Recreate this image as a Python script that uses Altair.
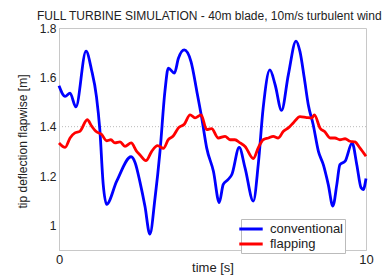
import altair as alt
import pandas as pd

# conventional blade (blue)
t_conv = [0.0, 0.20, 0.36, 0.55, 0.88, 1.06, 1.22, 1.33, 1.44, 1.55, 1.88, 2.35,
          2.48, 2.64, 2.80, 2.96, 3.13, 3.29, 3.45, 3.56, 3.76, 3.89, 4.08, 4.30,
          4.49, 4.65, 4.81, 5.03, 5.22, 5.35, 5.51, 5.63, 5.87, 6.06, 6.33, 6.49,
          6.65, 6.87, 7.04, 7.25, 7.47, 7.72, 7.85, 7.99, 8.12, 8.28, 8.45, 8.61,
          8.77, 8.92, 9.05, 9.15, 9.32, 9.55, 9.70, 9.84, 9.91, 10.0]
conv = [1.566, 1.523, 1.536, 1.480, 1.706, 1.630, 1.522, 1.388, 1.166, 1.085, 1.179, 1.278,
        1.254, 1.174, 1.077, 0.964, 1.113, 1.300, 1.543, 1.637, 1.617, 1.677, 1.711, 1.664,
        1.543, 1.435, 1.314, 1.219, 1.092, 1.166, 1.186, 1.206, 1.316, 1.233, 1.098, 1.246,
        1.475, 1.630, 1.570, 1.466, 1.610, 1.747, 1.704, 1.597, 1.489, 1.408, 1.300, 1.246,
        1.166, 1.078, 1.166, 1.246, 1.260, 1.334, 1.246, 1.152, 1.145, 1.190]

# flapping blade (red)
t_flap = [0.0, 0.20, 0.36, 0.52, 0.68, 0.92, 1.07, 1.20, 1.39, 1.55, 1.69, 1.82,
          1.99, 2.15, 2.35, 2.53, 2.64, 2.83, 3.02, 3.21, 3.40, 3.56, 3.72, 3.89,
          4.08, 4.27, 4.43, 4.63, 4.81, 4.97, 5.19, 5.41, 5.57, 5.73, 5.90, 6.06,
          6.33, 6.49, 6.65, 6.82, 6.98, 7.14, 7.31, 7.47, 7.63, 7.85, 8.07, 8.23,
          8.32, 8.50, 8.66, 8.83, 8.99, 9.15, 9.32, 9.48, 9.64, 9.80, 10.0]
flap = [1.334, 1.316, 1.354, 1.375, 1.381, 1.428, 1.401, 1.381, 1.368, 1.343, 1.347, 1.334,
        1.338, 1.320, 1.334, 1.300, 1.285, 1.262, 1.300, 1.323, 1.312, 1.347, 1.362, 1.395,
        1.410, 1.448, 1.436, 1.448, 1.388, 1.392, 1.354, 1.361, 1.347, 1.347, 1.334, 1.320,
        1.271, 1.314, 1.347, 1.354, 1.361, 1.354, 1.381, 1.395, 1.415, 1.441, 1.437, 1.435,
        1.448, 1.395, 1.379, 1.354, 1.354, 1.347, 1.351, 1.341, 1.338, 1.314, 1.280]

series_names = ["conventional", "flapping"]
series_colors = ["#0000ff", "#ff0000"]
y_ticks = [1.0, 1.2, 1.4, 1.6, 1.8]
x_ticks = [0, 10]
ref_level = [1.4]

df = pd.concat([
    pd.DataFrame({"time": t_conv, "defl": conv, "series": series_names[0]}),
    pd.DataFrame({"time": t_flap, "defl": flap, "series": series_names[1]}),
])

FONT = "Liberation Sans"

x_enc = alt.X("time:Q",
              scale=alt.Scale(domain=[0, 10], nice=False),
              axis=alt.Axis(values=x_ticks, title="time [s]", grid=False, ticks=False,
                            labelFontSize=13, labelPadding=3, labelColor="#222",
                            titleFontSize=13, titleFontWeight="normal", titleColor="#222",
                            titleY=17, titleBaseline="middle",
                            domainColor="#c8c8c8", labelFlush=False))
y_enc = alt.Y("defl:Q",
              scale=alt.Scale(domain=[0.9, 1.8], nice=False),
              axis=alt.Axis(values=y_ticks, format=".1~f", title="tip deflection flapwise [m]",
                            grid=False, ticks=False, labelFontSize=12, labelPadding=3,
                            labelColor="#222", titleFontSize=12, titleFontWeight="normal",
                            titleColor="#222", titleX=-37, titleY=113, titleAngle=-90,
                            titleBaseline="middle", titleAlign="center",
                            domainColor="#c8c8c8"))

ref = alt.Chart(pd.DataFrame({"y": ref_level})).mark_rule(
    color="#bbbbbb", strokeDash=[1, 2], strokeWidth=1
).encode(y=alt.Y("y:Q", scale=alt.Scale(domain=[0.9, 1.8], nice=False)))

lines = alt.Chart(df).mark_line(strokeWidth=2.8, interpolate="monotone").encode(
    x=x_enc,
    y=y_enc,
    color=alt.Color("series:N",
                    scale=alt.Scale(domain=series_names, range=series_colors),
                    legend=alt.Legend(title=None, orient="none", legendX=182, legendY=191,
                                      symbolType="M-1.8,0H1.8", symbolSize=169,
                                      symbolStrokeWidth=3, labelFontSize=13,
                                      labelColor="#222", labelOffset=11,
                                      fillColor="white", strokeColor="#bbbbbb",
                                      padding=2, rowPadding=-2)),
)

chart = alt.layer(ref, lines).properties(
    width=307, height=222,
    autosize=alt.AutoSizeParams(type="none"),
    padding={"left": 51, "top": 20, "right": 18, "bottom": 26},
    title=alt.TitleParams("FULL TURBINE SIMULATION - 40m blade, 10m/s turbulent wind",
                          anchor="start", frame="group", dx=-22, offset=-1, fontSize=12,
                          fontWeight="normal", color="#222", font=FONT),
).configure(font=FONT, background="white").configure_view(
    stroke="#c8c8c8", strokeWidth=1
)

chart.save("out.html", embed_options={"renderer": "svg", "actions": False})
